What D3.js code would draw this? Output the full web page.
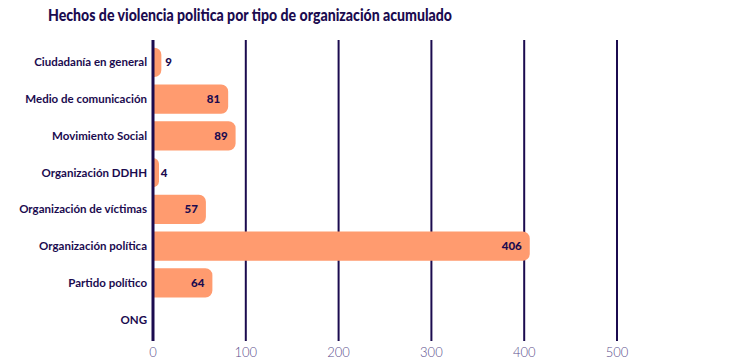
<!DOCTYPE html>
<html>
<head>
    <script src="https://cdnjs.cloudflare.com/ajax/libs/d3/7.8.5/d3.min.js"></script>
    <style>
        body { margin: 0; background: #fff; }
    </style>
</head>
<body>
    <script>
        var categories = ["Ciudadanía en general", "Medio de comunicación", "Movimiento Social",
            "Organización DDHH", "Organización de víctimas", "Organización política",
            "Partido político", "ONG"];
        var values = [9, 81, 89, 4, 57, 406, 64, 0];
        var ticks = [0, 100, 200, 300, 400, 500];

        var W = 729, H = 362;
        var ink = "#1b0b4f", bar = "#ff9b6f";

        var svg = d3.select("body").append("svg")
            .attr("width", W)
            .attr("height", H);

        svg.append("text")
            .attr("x", 48)
            .attr("y", 21)
            .attr("textLength", 404)
            .attr("lengthAdjust", "spacingAndGlyphs")
            .style("font-family", "Lato")
            .style("font-weight", 900)
            .style("font-size", "16.5px")
            .style("fill", ink)
            .text("Hechos de violencia politica por tipo de organización acumulado");

        var x = d3.scaleLinear().domain([0, 500]).range([153, 617]);
        var y = d3.scaleBand().domain(categories).range([44, 338]).paddingInner(0.2).paddingOuter(0.1);

        // gridlines
        svg.append("g").selectAll("line")
            .data(ticks)
            .join("line")
            .attr("x1", d => x(d)).attr("x2", d => x(d))
            .attr("y1", 40).attr("y2", 341)
            .attr("stroke", ink)
            .attr("stroke-width", 2);

        // tick labels
        svg.append("g").selectAll("text")
            .data(ticks)
            .join("text")
            .attr("x", d => x(d))
            .attr("y", 357)
            .attr("text-anchor", "middle")
            .style("font-family", "Lato")
            .style("font-weight", 300)
            .style("font-size", "13px")
            .style("fill", "#5b4d8c")
            .text(d => d);

        // bars with rounded right end
        var r = 7;
        function barPath(d, i) {
            var x0 = x(0), x1 = Math.max(x(d), x(0) + 6), y0 = y(categories[i]), h = y.bandwidth();
            if (d <= 0) return "";
            var rr = Math.min(r, x1 - x0, h / 2);
            return "M" + x0 + "," + y0 +
                "H" + (x1 - rr) +
                "A" + rr + "," + rr + " 0 0,1 " + x1 + "," + (y0 + rr) +
                "V" + (y0 + h - rr) +
                "A" + rr + "," + rr + " 0 0,1 " + (x1 - rr) + "," + (y0 + h) +
                "H" + x0 + "Z";
        }
        svg.append("g").selectAll("path")
            .data(values)
            .join("path")
            .attr("d", barPath)
            .attr("fill", bar);

        // zero line over bars
        svg.append("line")
            .attr("x1", x(0)).attr("x2", x(0))
            .attr("y1", 40).attr("y2", 341)
            .attr("stroke", ink)
            .attr("stroke-width", 3);

        // category labels
        svg.append("g").selectAll("text")
            .data(categories)
            .join("text")
            .attr("x", 147)
            .attr("y", d => y(d) + y.bandwidth() / 2 + 4)
            .attr("text-anchor", "end")
            .style("font-family", "Lato")
            .style("font-weight", 700)
            .style("font-size", "11.5px")
            .style("fill", ink)
            .text(d => d);

        // value labels
        svg.append("g").selectAll("text")
            .data(values.map((v, i) => ({ v: v, c: categories[i] })).filter(d => d.v > 0))
            .join("text")
            .attr("x", d => d.v < 20 ? x(d.v) + 4 : x(d.v) - 8)
            .attr("y", d => y(d.c) + y.bandwidth() / 2 + 4)
            .attr("text-anchor", d => d.v < 20 ? "start" : "end")
            .style("font-family", "Lato")
            .style("font-weight", 900)
            .style("font-size", "11.5px")
            .style("fill", ink)
            .text(d => d.v);
    </script>
</body>
</html>
